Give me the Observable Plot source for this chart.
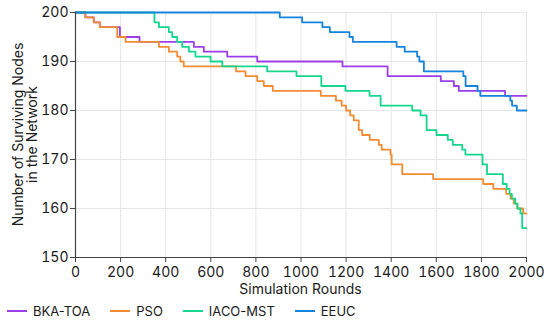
<!DOCTYPE html>
<html><head><meta charset="utf-8">
<script src="https://cdn.jsdelivr.net/npm/d3@7"></script>
<script src="https://cdn.jsdelivr.net/npm/@observablehq/plot@0.6"></script>
<style>
body{margin:0;background:#fff;font-family:Inter,"Noto Sans",sans-serif;color:#1a1a1a;}
#legend{display:flex;gap:20px;margin-left:7px;margin-top:5px;font-size:13px;line-height:16px;}
.item{display:flex;align-items:center;gap:6px}
.sw{width:20px;height:2px}
</style></head><body><div id="chart"></div><div id="legend"></div>
<script>
const seriesNames = ["BKA-TOA", "PSO", "IACO-MST", "EEUC"];
const seriesColors = ["#9c3fe8", "#f28c33", "#14d68c", "#1684de"];
const xTicks = [0, 200, 400, 600, 800, 1000, 1200, 1400, 1600, 1800, 2000];
const yTicks = [150, 160, 170, 180, 190, 200];

const bkaRounds = [0,44,81,108,197,284,525,569,673,806,1184,1384,1620,1678,1700,1905,2000];
const bkaNodes  = [200,199,198,197,195,194,193,192,191,190,189,187,186,185,184,183,183];

const psoRounds = [0,44,81,108,185,222,370,414,451,465,480,712,754,806,835,875,1088,1155,1180,1200,1218,1234,1256,1271,1305,1345,1358,1397,1402,1449,1586,1808,1853,1910,1929,1944,1959,1985,2000];
const psoNodes  = [200,199,198,197,195,194,193,192,191,190,189,188,187,186,185,184,183,182,181,180,179,178,176,175,174,173,172,171,169,167,166,165,164,163,162,161,160,159,159];

const iacoRounds = [0,350,370,414,429,451,473,503,532,599,651,850,980,1090,1197,1304,1353,1493,1530,1557,1601,1651,1673,1715,1729,1805,1825,1895,1912,1925,1935,1950,1960,1973,1981,2000];
const iacoNodes  = [200,198,197,196,195,194,193,192,191,190,189,188,187,185,184,183,181,180,179,176,175,174,173,172,171,169,167,165,164,163,162,161,160,159,156,156];

const eeucRounds = [0,906,1005,1095,1128,1215,1230,1424,1460,1515,1525,1545,1720,1730,1783,1795,1928,1936,1957,2000];
const eeucNodes  = [200,199,198,197,196,195,194,193,192,191,190,188,187,185,184,183,182,181,180,180];

const allRounds = [bkaRounds, psoRounds, iacoRounds, eeucRounds];
const allNodes = [bkaNodes, psoNodes, iacoNodes, eeucNodes];
const data = [];
seriesNames.forEach((s, i) => {
  allRounds[i].forEach((r, j) => data.push({series: s, round: r, nodes: allNodes[i][j]}));
});

const axisColor = "#444";
const chart = Plot.plot({
  width: 550, height: 298,
  marginLeft: 75, marginRight: 24, marginTop: 12, marginBottom: 41,
  x: {domain: [0, 2000]},
  y: {domain: [150, 200]},
  color: {domain: seriesNames, range: seriesColors},
  style: {fontFamily: "Inter, 'Noto Sans', sans-serif", fontSize: "14px", color: "#1a1a1a", background: "#fff"},
  marks: [
    Plot.gridX(xTicks, {stroke: "#e6e6e6", strokeOpacity: 1}),
    Plot.gridY(yTicks, {stroke: "#e6e6e6", strokeOpacity: 1}),
    Plot.line(data, {x: "round", y: "nodes", z: "series", stroke: "series", curve: "step-after", strokeWidth: 1.8}),
    Plot.ruleX([0], {stroke: axisColor, strokeWidth: 1.2}),
    Plot.ruleY([150], {stroke: axisColor, strokeWidth: 1.2}),
    Plot.axisX(xTicks, {tickSize: 5, tickPadding: 5, label: null, stroke: axisColor, fontSize: 14, tickFormat: d => String(d)}),
    Plot.axisY(yTicks, {tickSize: 5, tickPadding: 2, label: null, stroke: axisColor, fontSize: 14, tickFormat: d => String(d)})
  ]
});
document.getElementById("chart").appendChild(chart);

const svg = d3.select(chart);
svg.append("text")
  .attr("x", 300.5).attr("y", 289).attr("dy", "0.35em")
  .attr("text-anchor", "middle")
  .attr("font-size", 14).attr("fill", "#1a1a1a")
  .text("Simulation Rounds");
const yl = svg.append("g").attr("transform", "translate(18.5,134.5) rotate(-90)");
yl.append("text").attr("x", 0).attr("y", 0).attr("dy", "0.35em")
  .attr("text-anchor", "middle").attr("font-size", 14).attr("fill", "#1a1a1a")
  .text("Number of Surviving Nodes");
yl.append("text").attr("x", 0).attr("y", 14).attr("dy", "0.35em")
  .attr("text-anchor", "middle").attr("font-size", 14).attr("fill", "#1a1a1a")
  .text("in the Network");

const legend = document.getElementById("legend");
seriesNames.forEach((s, i) => {
  const it = document.createElement("div"); it.className = "item";
  const sw = document.createElement("span"); sw.className = "sw"; sw.style.background = seriesColors[i];
  const tx = document.createElement("span"); tx.textContent = s;
  it.appendChild(sw); it.appendChild(tx); legend.appendChild(it);
});
</script>
</body></html>
